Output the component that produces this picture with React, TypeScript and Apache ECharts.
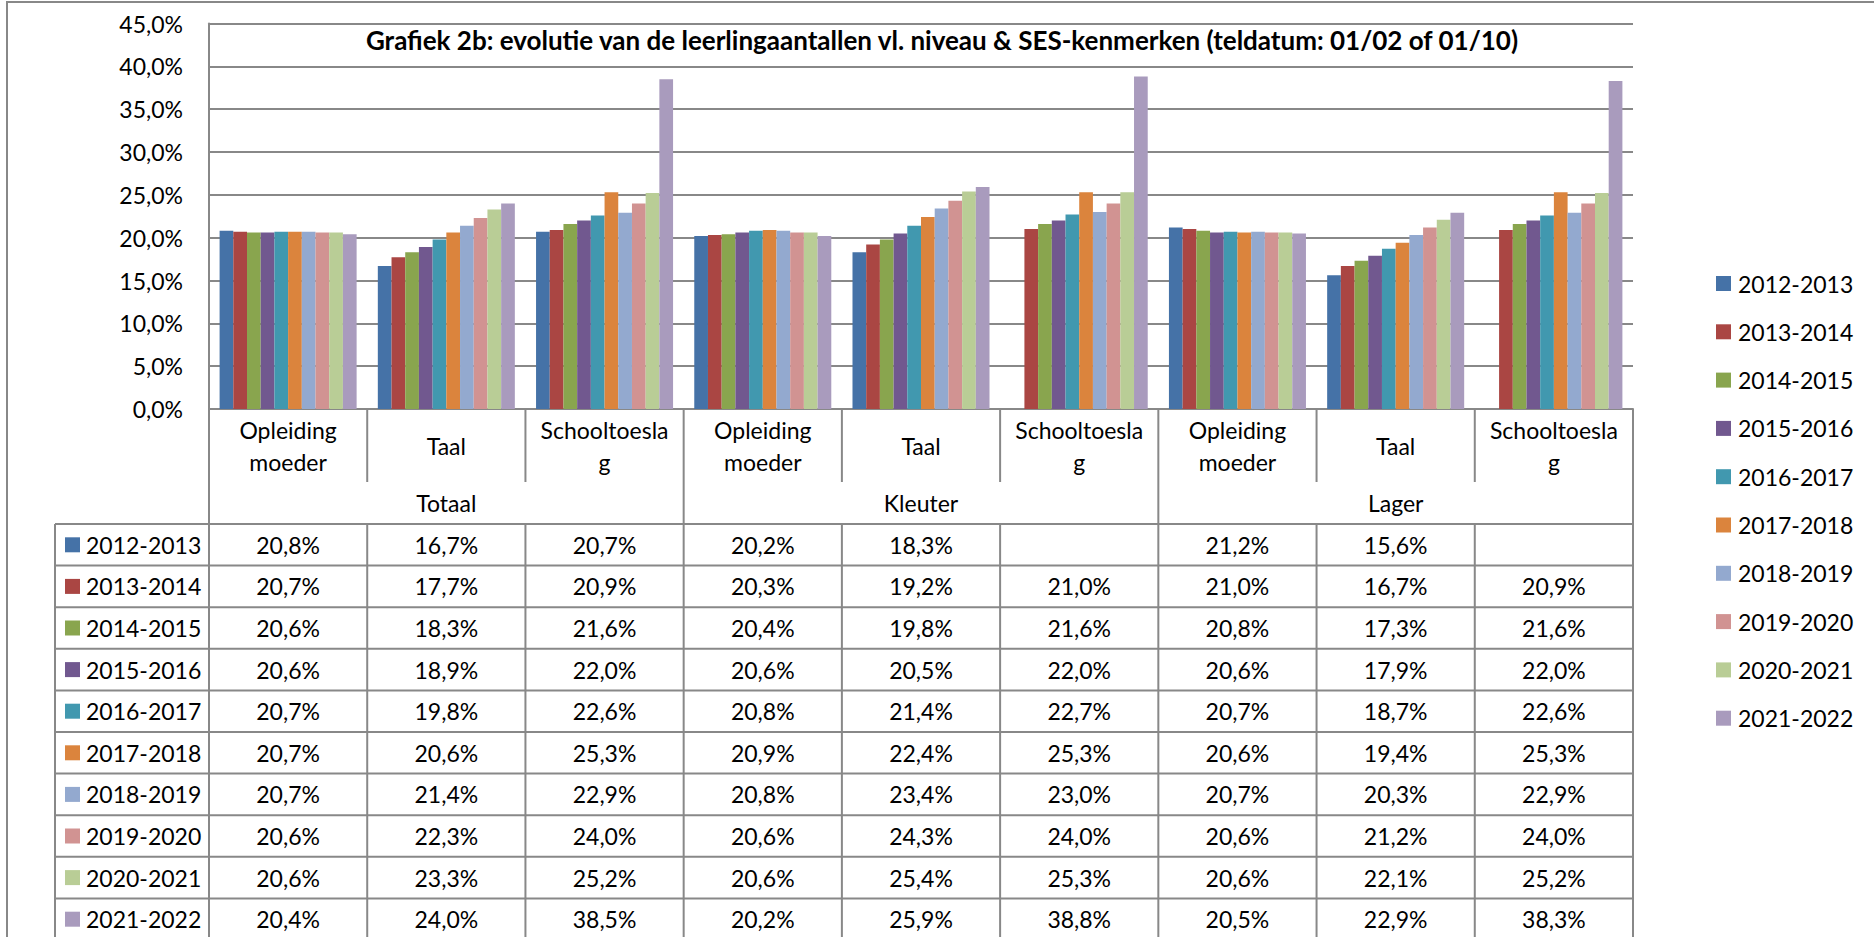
import React, { useEffect, useRef } from "react";
import * as echarts from "echarts";

const TITLE = "Grafiek 2b: evolutie van de leerlingaantallen vl. niveau & SES-kenmerken (teldatum: 01/02 of 01/10)";
const categories = [
  "Opleiding\nmoeder", "Taal", "Schooltoesla\ng",
  "Opleiding\nmoeder", "Taal", "Schooltoesla\ng",
  "Opleiding\nmoeder", "Taal", "Schooltoesla\ng",
];
const groups = ["Totaal", "Kleuter", "Lager"];
const seriesNames = [
  "2012-2013", "2013-2014", "2014-2015", "2015-2016", "2016-2017",
  "2017-2018", "2018-2019", "2019-2020", "2020-2021", "2021-2022",
];
const colors = [
  "#4572A7", "#AA4643", "#89A54E", "#71588F", "#4198AF",
  "#DB843D", "#93A9CF", "#D19392", "#B9CD96", "#A99BBD",
];
const s2012 = [20.8, 16.7, 20.7, 20.2, 18.3, null, 21.2, 15.6, null];
const s2013 = [20.7, 17.7, 20.9, 20.3, 19.2, 21.0, 21.0, 16.7, 20.9];
const s2014 = [20.6, 18.3, 21.6, 20.4, 19.8, 21.6, 20.8, 17.3, 21.6];
const s2015 = [20.6, 18.9, 22.0, 20.6, 20.5, 22.0, 20.6, 17.9, 22.0];
const s2016 = [20.7, 19.8, 22.6, 20.8, 21.4, 22.7, 20.7, 18.7, 22.6];
const s2017 = [20.7, 20.6, 25.3, 20.9, 22.4, 25.3, 20.6, 19.4, 25.3];
const s2018 = [20.7, 21.4, 22.9, 20.8, 23.4, 23.0, 20.7, 20.3, 22.9];
const s2019 = [20.6, 22.3, 24.0, 20.6, 24.3, 24.0, 20.6, 21.2, 24.0];
const s2020 = [20.6, 23.3, 25.2, 20.6, 25.4, 25.3, 20.6, 22.1, 25.2];
const s2021 = [20.4, 24.0, 38.5, 20.2, 25.9, 38.8, 20.5, 22.9, 38.3];
const seriesData = [s2012, s2013, s2014, s2015, s2016, s2017, s2018, s2019, s2020, s2021];

const fmt = (v: number | null) => (v == null ? "" : v.toFixed(1).replace(".", ",") + "%");

export default function App() {
  const ref = useRef<HTMLDivElement>(null);
  useEffect(() => {
    document.body.style.margin = "0";
    const chart = echarts.init(ref.current!, undefined, { renderer: "svg" });
    const W = 1874, H = 937;
    const gL = 209, gR = 1633, gT = 23.5, gB = 409;
    const catW = (gR - gL) / categories.length;
    const catRowBottom = 482;
    const tableTop = 524;
    const rowH = 41.6;
    const tableLeft = 55;
    const FONT = "Lato";
    const FS = 23;
    const lineColor = "#888888";
    const lw = 2;

    const graphics: any[] = [];
    const line = (x1: number, y1: number, x2: number, y2: number) =>
      graphics.push({ type: "line", silent: true, shape: { x1, y1, x2, y2 }, style: { stroke: lineColor, lineWidth: lw } });

    // outer chart border
    graphics.push({ type: "rect", silent: true, shape: { x: 7, y: 2, width: W + 20, height: H + 20 }, style: { fill: "none", stroke: lineColor, lineWidth: lw } });

    const bottom = H + 10;
    for (let k = 0; k <= seriesNames.length; k++) {
      const y = tableTop + k * rowH;
      line(tableLeft, y, gR, y);
    }
    line(tableLeft, tableTop, tableLeft, bottom);
    line(gL, gB, gL, bottom);
    line(gR, gB, gR, bottom);
    for (let i = 1; i < categories.length; i++) {
      const x = gL + i * catW;
      if (i % 3 === 0) {
        line(x, gB, x, bottom);
      } else {
        line(x, gB, x, catRowBottom);
        line(x, tableTop, x, bottom);
      }
    }
    seriesNames.forEach((name, r) => {
      const cy = tableTop + rowH * (r + 0.5);
      graphics.push({ type: "rect", silent: true, shape: { x: 65, y: cy - 7.5, width: 15, height: 15 }, style: { fill: colors[r] } });
      graphics.push({ type: "text", silent: true, x: 86, y: cy, style: { text: name, fill: "#000", font: `${FS}px ${FONT}`, textVerticalAlign: "middle", textAlign: "left" } });
    });

    const valueAxes = seriesNames.map((_, r) => ({
      type: "category",
      gridIndex: 0,
      position: "bottom",
      data: seriesData[r].map(fmt),
      axisLine: { show: false },
      axisTick: { show: false },
      splitLine: { show: false },
      axisLabel: {
        interval: 0,
        margin: tableTop + rowH * (r + 0.5) - gB,
        verticalAlign: "middle",
        color: "#000",
        fontSize: FS,
        fontFamily: FONT,
      },
    }));

    chart.setOption({
      animation: false,
      backgroundColor: "#fff",
      title: {
        text: TITLE,
        left: 942,
        top: 25,
        padding: 0,
        textAlign: "center",
        textStyle: { fontFamily: FONT, fontWeight: "bold", fontSize: 26, color: "#000", lineHeight: 30 },
      },
      grid: { left: gL, right: W - gR, top: gT, bottom: H - gB, containLabel: false },
      legend: {
        orient: "vertical",
        left: 1711,
        top: 267,
        itemWidth: 15,
        itemHeight: 15,
        itemGap: 25.3,
        icon: "rect",
        selectedMode: false,
        data: seriesNames,
        textStyle: { fontFamily: FONT, fontSize: FS, color: "#000", lineHeight: 22, padding: [0, 0, 0, 2] },
      },
      yAxis: {
        type: "value",
        min: 0,
        max: 45,
        interval: 5,
        axisLine: { show: true, lineStyle: { color: lineColor, width: lw } },
        axisTick: { show: false },
        splitLine: { show: true, lineStyle: { color: lineColor, width: lw } },
        axisLabel: {
          formatter: (v: number) => v.toFixed(1).replace(".", ",") + "%",
          color: "#000",
          fontSize: FS,
          fontFamily: FONT,
          margin: 26,
        },
      },
      xAxis: [
        {
          type: "category",
          data: categories,
          axisLine: { show: true, lineStyle: { color: lineColor, width: lw } },
          axisTick: { show: false },
          axisLabel: {
            interval: 0,
            margin: 446 - gB,
            verticalAlign: "middle",
            lineHeight: 31.7,
            color: "#000",
            fontSize: FS,
            fontFamily: FONT,
          },
        },
        {
          type: "category",
          gridIndex: 0,
          position: "bottom",
          data: groups,
          axisLine: { show: false },
          axisTick: { show: false },
          axisLabel: {
            interval: 0,
            margin: 503 - gB,
            verticalAlign: "middle",
            color: "#000",
            fontSize: FS,
            fontFamily: FONT,
          },
        },
        ...valueAxes,
      ],
      series: seriesNames.map((name, i) => ({
        name,
        type: "bar",
        xAxisIndex: 0,
        data: seriesData[i],
        barGap: "0%",
        barCategoryGap: "13.4%",
        itemStyle: { color: colors[i] },
      })),
      graphic: graphics,
    });
    return () => chart.dispose();
  }, []);
  return <div ref={ref} style={{ width: 1874, height: 937 }} />;
}
